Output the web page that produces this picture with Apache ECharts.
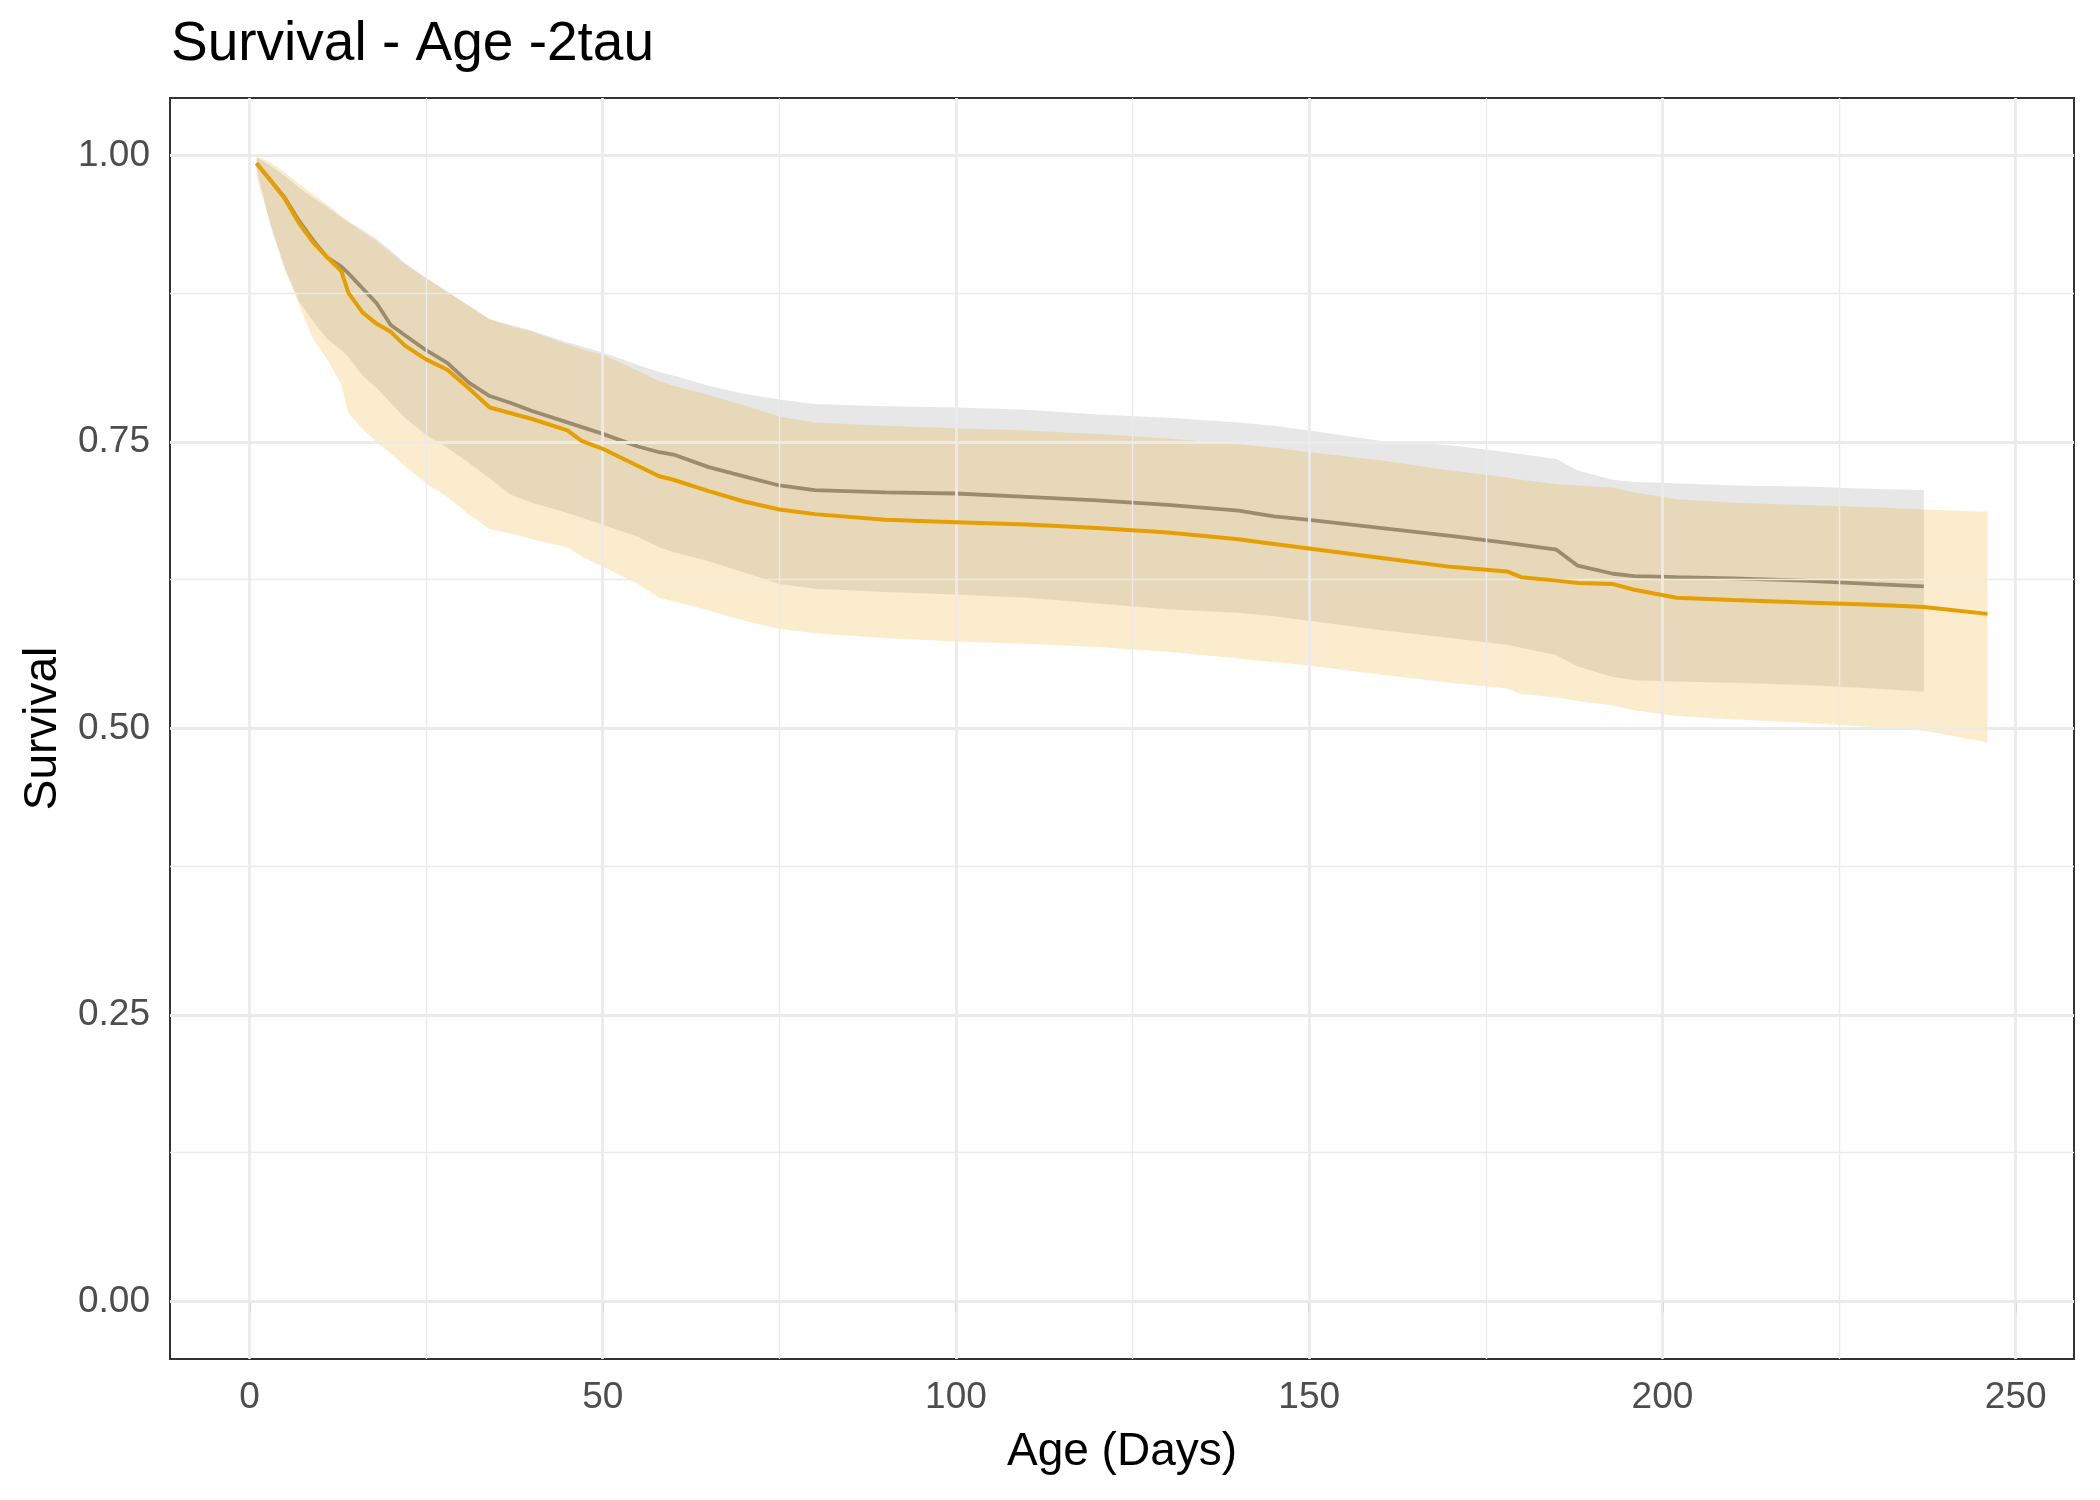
<!DOCTYPE html>
<html>
<head>
<meta charset="utf-8">
<script src="https://cdn.jsdelivr.net/npm/echarts@6/dist/echarts.min.js"></script>
<style>
html,body{margin:0;padding:0;background:#fff;}
#chart{width:2100px;height:1500px;}
</style>
</head>
<body>
<div id="chart"></div>
<script>
// ---- data ----
const daysOrange = [1,3,5,7,9,11,13,14,16,18,20,22,25,28,31,34,37,40,45,47,50,55,58,60,65,70,75,80,90,100,110,120,130,140,145,150,160,170,178,180,185,188,193,196,202,210,220,230,237,246];
const survOrange = [.993,.978,.962,.941,.924,.911,.899,.880,.863,.853,.846,.834,.822,.813,.797,.780,.775,.770,.760,.751,.744,.729,.720,.717,.707,.698,.691,.687,.682,.680,.678,.675,.671,.665,.661,.657,.649,.641,.637,.632,.629,.627,.626,.621,.614,.612,.610,.608,.606,.600];
const upperOrange = [.999,.994,.985,.975,.966,.957,.947,.942,.933,.925,.915,.905,.893,.881,.869,.857,.851,.846,.835,.831,.826,.812,.803,.799,.791,.782,.772,.767,.764,.762,.760,.757,.753,.748,.745,.741,.734,.725,.719,.717,.713,.712,.710,.706,.700,.697,.695,.693,.691,.689];
const lowerOrange = [.981,.940,.900,.870,.840,.822,.800,.775,.761,.750,.740,.729,.714,.702,.687,.674,.670,.665,.658,.650,.641,.626,.614,.611,.603,.594,.587,.583,.579,.576,.574,.571,.567,.561,.558,.555,.547,.540,.535,.530,.527,.524,.520,.516,.511,.508,.505,.501,.498,.488];

const daysGray = [1,3,5,7,9,11,13,14,16,18,20,22,25,28,31,34,37,40,45,50,55,58,60,65,70,75,80,90,100,110,120,130,140,145,150,160,170,178,185,188,193,196,202,210,220,230,237];
const survGray = [.993,.978,.963,.943,.926,.911,.903,.897,.884,.871,.852,.843,.830,.819,.802,.790,.784,.777,.767,.757,.746,.741,.739,.728,.720,.712,.708,.706,.705,.702,.699,.695,.690,.685,.682,.675,.668,.662,.656,.642,.635,.633,.632,.631,.629,.626,.624];
const upperGray = [.998,.991,.982,.972,.963,.955,.946,.942,.935,.927,.917,.906,.893,.881,.869,.857,.852,.847,.837,.828,.817,.811,.808,.799,.792,.787,.783,.781,.780,.778,.774,.771,.767,.764,.760,.751,.747,.741,.735,.725,.717,.715,.714,.712,.711,.709,.708];
const lowerGray = [.988,.938,.902,.873,.855,.840,.830,.824,.808,.797,.784,.771,.756,.745,.732,.718,.704,.697,.688,.678,.667,.658,.654,.646,.636,.626,.622,.619,.617,.614,.609,.604,.601,.598,.594,.586,.579,.573,.564,.554,.545,.542,.541,.540,.538,.535,.532];

const xTicks = [0,50,100,150,200,250];
const xMinor = [25,75,125,175,225];
const yTicks = [0,0.25,0.5,0.75,1.0];
const yMinor = [0.125,0.375,0.625,0.875];

const titleText = 'Survival - Age -2tau';
const xName = 'Age (Days)';
const yName = 'Survival';

// ---- build ----
const FONT = '"Liberation Sans", Arial, Helvetica, sans-serif';
const pairs = (xs, ys) => xs.map((x, i) => [x, ys[i]]);

const majorStyle = {color:'#EBEBEB', width:2.8, type:'solid'};
const minorStyle = {color:'#EBEBEB', width:1.4, type:'solid'};
const gridLines = [];
xMinor.forEach(v => gridLines.push({xAxis:v, lineStyle:minorStyle}));
yMinor.forEach(v => gridLines.push({yAxis:v, lineStyle:minorStyle}));
xTicks.forEach(v => gridLines.push({xAxis:v, lineStyle:majorStyle}));
yTicks.forEach(v => gridLines.push({yAxis:v, lineStyle:majorStyle}));

function ribbonSeries(name, days, lo, hi, fill, z) {
  return {
    type:'custom', name:name, z:z, silent:true, clip:true,
    data:[[days[0], lo[0]]],
    encode:{x:0, y:1},
    renderItem:function(params, api) {
      if (params.dataIndex !== 0) return null;
      const pts = [];
      for (let i = 0; i < days.length; i++) pts.push(api.coord([days[i], hi[i]]));
      for (let i = days.length - 1; i >= 0; i--) pts.push(api.coord([days[i], lo[i]]));
      return {type:'polygon', shape:{points:pts}, style:{fill:fill, stroke:null}};
    }
  };
}

const chart = echarts.init(document.getElementById('chart'), null, {renderer:'canvas'});
chart.setOption({
  animation:false,
  backgroundColor:'#ffffff',
  title:{
    text:titleText, left:166, top:12,
    textStyle:{fontFamily:FONT, fontSize:55, fontWeight:'normal', color:'#000'}
  },
  grid:{left:170, right:26, top:98, bottom:141, show:true, borderColor:'#333333', borderWidth:2, backgroundColor:'transparent', containLabel:false},
  xAxis:{
    type:'value', min:-11.25, max:258.25,
    name:xName, nameLocation:'middle', nameGap:70,
    nameTextStyle:{fontFamily:FONT, fontSize:46, color:'#000'},
    axisLine:{show:false},
    axisTick:{show:true, length:11, inside:false, customValues:xTicks, lineStyle:{color:'#333333', width:2}},
    axisLabel:{show:true, margin:20, customValues:xTicks, fontFamily:FONT, fontSize:37, color:'#4D4D4D'},
    splitLine:{show:false}, minorSplitLine:{show:false}
  },
  yAxis:{
    type:'value', min:-0.05, max:1.05,
    name:yName, nameLocation:'middle', nameGap:104, nameRotate:90,
    nameTextStyle:{fontFamily:FONT, fontSize:46, color:'#000'},
    axisLine:{show:false},
    axisTick:{show:true, length:11, inside:false, customValues:yTicks, lineStyle:{color:'#333333', width:2}},
    axisLabel:{show:true, margin:20, customValues:yTicks, fontFamily:FONT, fontSize:37, color:'#4D4D4D',
      formatter:v => Number(v).toFixed(2)},
    splitLine:{show:false}, minorSplitLine:{show:false}
  },
  series:[
    {
      type:'line', name:'grid', z:1, silent:true, symbol:'none',
      data:[[0,0]], lineStyle:{opacity:0},
      markLine:{silent:true, symbol:['none','none'], label:{show:false}, emphasis:{disabled:true}, animation:false, data:gridLines}
    },
    ribbonSeries('grayBand', daysGray, lowerGray, upperGray, 'rgba(136,136,136,0.2)', 2),
    {
      type:'line', name:'grayLine', z:3, symbol:'none', silent:true,
      data:pairs(daysGray, survGray), lineStyle:{color:'#888888', width:3.8}
    },
    ribbonSeries('orangeBand', daysOrange, lowerOrange, upperOrange, 'rgba(230,159,0,0.2)', 4),
    {
      type:'line', name:'orangeLine', z:5, symbol:'none', silent:true,
      data:pairs(daysOrange, survOrange), lineStyle:{color:'#E69F00', width:4}
    }
  ]
});
</script>
</body>
</html>
